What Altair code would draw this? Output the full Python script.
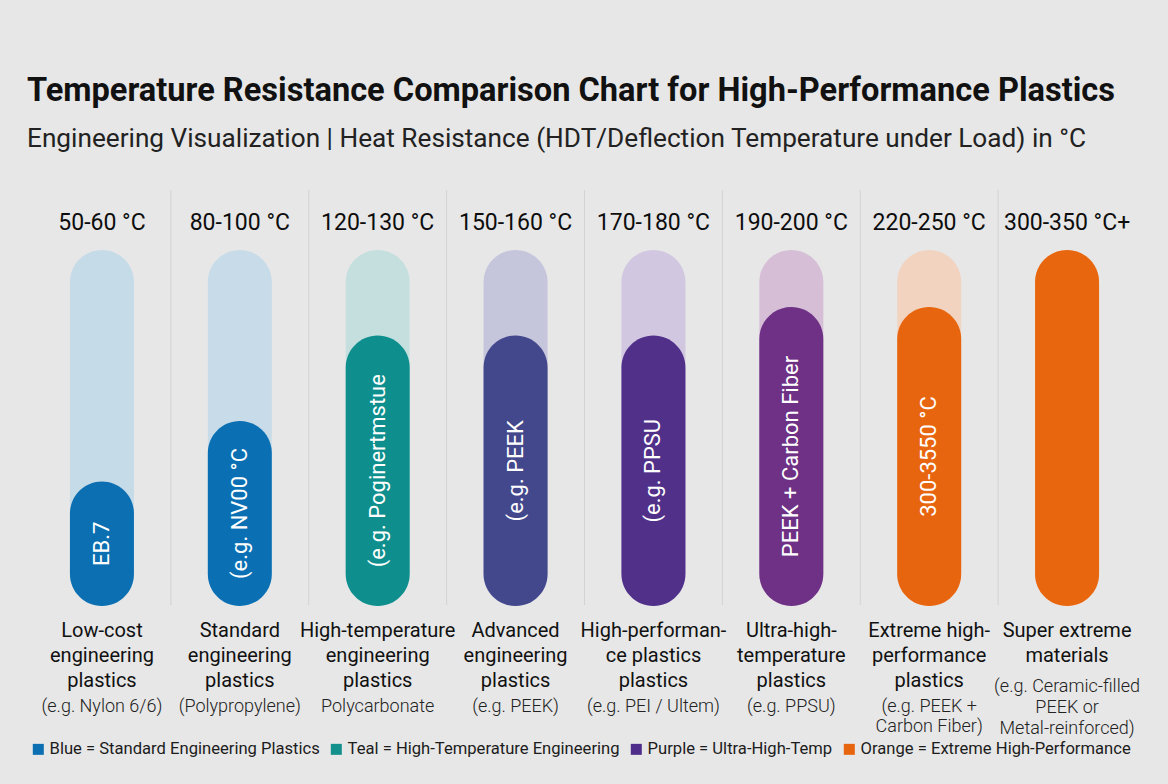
import altair as alt
import pandas as pd

# ---- data -------------------------------------------------------------
ranges = ["50-60 °C", "80-100 °C", "120-130 °C", "150-160 °C",
          "170-180 °C", "190-200 °C", "220-250 °C", "300-350 °C+"]

# gauge fill level, percent of the full tube
fill_level = [35, 52, 76, 76, 76, 84, 84, 100]

pill_text = ["EB.7", "(e.g. NV00 °C", "(e.g. Poginertmstue", "(e.g. PEEK",
             "(e.g. PPSU", "PEEK + Carbon Fiber", "300-3550 °C", ""]

class_lines = [
    ["Low-cost", "engineering", "plastics"],
    ["Standard", "engineering", "plastics"],
    ["High-temperature", "engineering", "plastics"],
    ["Advanced", "engineering", "plastics"],
    ["High-performan-", "ce plastics", "plastics"],
    ["Ultra-high-", "temperature", "plastics"],
    ["Extreme high-", "performance", "plastics"],
    ["Super extreme", "materials"],
]

example_lines = [
    ["(e.g. Nylon 6/6)"],
    ["(Polypropylene)"],
    ["Polycarbonate"],
    ["(e.g. PEEK)"],
    ["(e.g. PEI / Ultem)"],
    ["(e.g. PPSU)"],
    ["(e.g. PEEK +", "Carbon Fiber)"],
    ["(e.g. Ceramic-filled", "PEEK or", "Metal-reinforced)"],
]

legend_labels = ["Blue = Standard Engineering Plastics",
                 "Teal = High-Temperature Engineering",
                 "Purple = Ultra-High-Temp",
                 "Orange = Extreme High-Performance"]

# ---- styling ------------------------------------------------------------
track_colors = ["#c6dbe8", "#c7dce8", "#c5dfdf", "#c5c6dc",
                "#d2c7e1", "#d6bed7", "#f1d3c0", "#f3c6a6"]
fill_colors = ["#0b6fb2", "#0b70b3", "#0e8f8e", "#43478c",
               "#51308a", "#6e3185", "#e8650f", "#e8660e"]
legend_colors = ["#0b6fb2", "#13908b", "#4f2d8a", "#e8650f"]

FONT = "Roboto, Liberation Sans, sans-serif"

df = pd.DataFrame({
    "range": ranges,
    "level": fill_level,
    "pill_text": pill_text,
    "class_lines": class_lines,
    "example_lines": example_lines,
})
legend_df = pd.DataFrame({"label": legend_labels})

xscale = alt.Scale(domain=ranges, paddingInner=0, paddingOuter=0)
yscale = alt.Scale(domain=[0, 100], nice=False)
X = alt.X("range:N", sort=ranges, scale=xscale, axis=None)

base = alt.Chart(df)

separators = base.transform_filter(
    alt.datum.range != ranges[0]
).mark_rule(color="#d3d3d3", strokeWidth=1).encode(
    x=alt.X("range:N", sort=ranges, scale=xscale, axis=None, bandPosition=0),
    y=alt.value(-60),
    y2=alt.value(355),
)

tracks = base.mark_bar(size=64, cornerRadius=32).encode(
    x=X,
    y=alt.YDatum(100, scale=yscale, axis=None),
    y2=alt.Y2Datum(0),
    color=alt.Color("range:N", scale=alt.Scale(domain=ranges, range=track_colors), legend=None),
)

fills = base.mark_bar(size=64, cornerRadius=32).encode(
    x=X,
    y=alt.Y("level:Q", scale=yscale, axis=None),
    y2=alt.Y2Datum(0),
    color=alt.Color("range:N", scale=alt.Scale(domain=ranges, range=fill_colors), legend=None),
)

pill_labels = base.transform_calculate(mid="datum.level / 2").mark_text(
    angle=270, align="center", baseline="middle",
    font=FONT, fontSize=22, color="white",
).encode(
    x=X,
    y=alt.Y("mid:Q", scale=yscale, axis=None),
    text="pill_text:N",
)

headers = base.mark_text(
    baseline="alphabetic", dy=-20, font=FONT, fontSize=23, color="#0d0d0d",
).encode(
    x=X,
    y=alt.YDatum(100, scale=yscale, axis=None),
    text="range:N",
)

class_text = base.mark_text(
    baseline="alphabetic", dy=31, lineHeight=25, font=FONT, fontSize=20,
    color="#111111",
).encode(
    x=X,
    y=alt.YDatum(0, scale=yscale, axis=None),
    text="class_lines:N",
)

with_n = base.transform_calculate(n="length(datum.class_lines)")

examples_3 = with_n.transform_filter("datum.n == 3").mark_text(
    baseline="alphabetic", dy=106, lineHeight=20, font=FONT, fontSize=18, fontWeight=300,
    color="#222222",
).encode(
    x=X,
    y=alt.YDatum(0, scale=yscale, axis=None),
    text="example_lines:N",
)

examples_2 = with_n.transform_filter("datum.n == 2").mark_text(
    baseline="alphabetic", dy=86, lineHeight=21, font=FONT, fontSize=18, fontWeight=300,
    color="#222222",
).encode(
    x=X,
    y=alt.YDatum(0, scale=yscale, axis=None),
    text="example_lines:N",
)

legend_layer = alt.Chart(legend_df).mark_square(size=0, opacity=0).encode(
    x=alt.value(0),
    y=alt.value(0),
    color=alt.Color(
        "label:N",
        scale=alt.Scale(domain=legend_labels, range=legend_colors),
        legend=alt.Legend(
            title=None, orient="none", direction="horizontal", columns=4,
            legendX=-3, legendY=491,
            symbolType="square", symbolSize=121, symbolOpacity=1, symbolStrokeWidth=0,
            labelFont=FONT, labelFontSize=16.6, labelColor="#1c1c1c", labelLimit=0,
            labelOffset=3, columnPadding=8,
        ),
    ),
)

chart = alt.layer(
    separators, tracks, fills, pill_labels, headers,
    class_text, examples_3, examples_2, legend_layer,
).resolve_scale(
    color="independent"
).properties(
    width=1103,
    height=356,
    padding={"left": 33, "top": 250, "right": 32, "bottom": 178},
    autosize="none",
    title=alt.Title(
        text="Temperature Resistance Comparison Chart for High-Performance Plastics",
        subtitle="Engineering Visualization | Heat Resistance (HDT/Deflection Temperature under Load) in °C",
        anchor="start", dx=-3, offset=37,
        font=FONT, fontSize=32.6, fontWeight="bold", color="#111111",
        subtitleFont=FONT, subtitleFontSize=26.2, subtitleColor="#222222",
        subtitlePadding=19,
    ),
).configure(
    background="#e7e7e7",
).configure_view(
    stroke=None,
)

chart.save("out.html", embed_options={"renderer": "svg", "actions": False})
